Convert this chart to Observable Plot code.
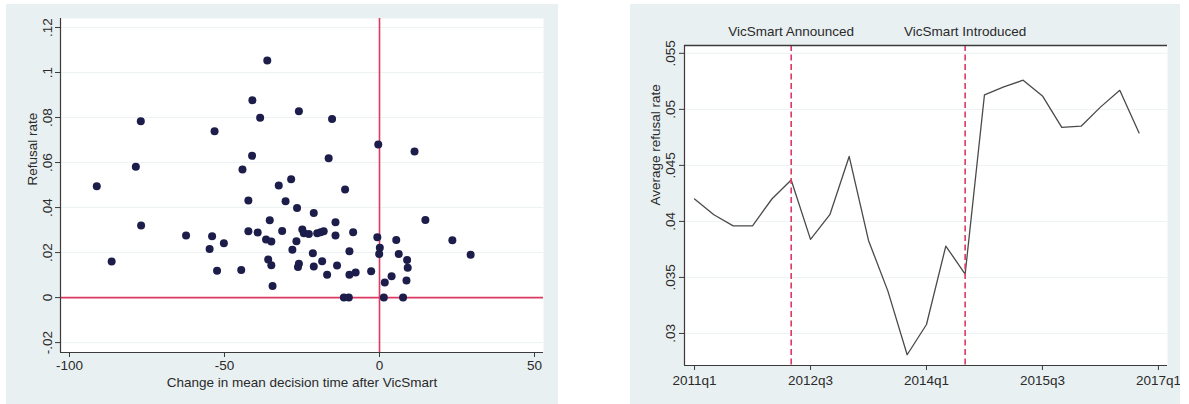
<!DOCTYPE html>
<html>
<head>
<meta charset="utf-8">
<script src="https://cdn.jsdelivr.net/npm/d3@7"></script>
<script src="https://cdn.jsdelivr.net/npm/@observablehq/plot@0.6"></script>
<style>
  html, body { margin: 0; padding: 0; background: #fff; width: 1189px; height: 404px; overflow: hidden; }
  .panel { position: absolute; background: #e9f0f2; }
  #left { left: 6px; top: 4px; width: 552px; height: 400px; }
  #right { left: 630px; top: 4px; width: 550px; height: 400px; }
</style>
</head>
<body>
<div id="left" class="panel"></div>
<div id="right" class="panel"></div>
<script>
// ---------- Left panel: scatter ----------
const changeDecisionTime = [-91.2,-77.0,-78.6,-86.4,-76.9,-62.4,-54.0,-54.8,-50.2,-52.4,-53.2,-44.6,-44.2,-42.3,-42.3,-41.1,-41.0,-39.3,-38.5,-36.2,-35.4,-36.6,-34.9,-35.9,-34.9,-34.5,-32.5,-31.4,-30.3,-28.5,-28.1,-26.6,-26.8,-26.0,-26.3,-26.0,-24.9,-24.4,-22.8,-21.2,-21.5,-21.2,-20.1,-19.0,-18.0,-18.5,-16.9,-16.4,-15.3,-14.2,-14.2,-13.7,-11.1,-11.5,-9.9,-9.7,-9.7,-8.5,-7.7,-2.7,-0.4,-0.7,0.1,-0.1,1.4,1.7,3.9,5.4,6.2,7.6,8.7,8.9,9.1,11.3,14.8,23.5,29.4];
const refusalRate = [0.0495,0.0783,0.0581,0.0160,0.0320,0.0276,0.0272,0.0216,0.0241,0.0119,0.0739,0.0123,0.0569,0.0431,0.0295,0.0630,0.0877,0.0289,0.0799,0.1053,0.0344,0.0258,0.0249,0.0169,0.0144,0.0052,0.0498,0.0296,0.0428,0.0526,0.0212,0.0398,0.0250,0.0828,0.0136,0.0150,0.0303,0.0286,0.0283,0.0376,0.0197,0.0138,0.0286,0.0290,0.0295,0.0161,0.0101,0.0619,0.0794,0.0335,0.0276,0.0142,0.0480,0.0,0.0,0.0206,0.0101,0.0290,0.0112,0.0117,0.0680,0.0268,0.0221,0.0194,0.0,0.0067,0.0095,0.0256,0.0194,0.0,0.0076,0.0167,0.0132,0.0649,0.0345,0.0255,0.0190];
const leftXTicks = [-100, -50, 0, 50];
const leftXTickLabels = ["-100", "-50", "0", "50"];
const leftYTicks = [-0.02, 0, 0.02, 0.04, 0.06, 0.08, 0.1, 0.12];
const leftYTickLabels = ["-.02", "0", ".02", ".04", ".06", ".08", ".1", ".12"];
const leftXTitle = "Change in mean decision time after VicSmart";
const leftYTitle = "Refusal rate";

// ---------- Right panel: line ----------
const quarters = ["2011q1","2011q2","2011q3","2011q4","2012q1","2012q2","2012q3","2012q4","2013q1","2013q2","2013q3","2013q4","2014q1","2014q2","2014q3","2014q4","2015q1","2015q2","2015q3","2015q4","2016q1","2016q2","2016q3","2016q4"];
const avgRefusal = [0.0420,0.0406,0.0396,0.0396,0.0420,0.0437,0.0384,0.0406,0.0458,0.0383,0.0338,0.0281,0.0308,0.0378,0.0353,0.0513,0.0520,0.0526,0.0512,0.0484,0.0485,0.0502,0.0517,0.0479];
const rightXTicks = [0, 6, 12, 18, 24];
const rightXTickLabels = ["2011q1", "2012q3", "2014q1", "2015q3", "2017q1"];
const rightYTicks = [0.03, 0.035, 0.04, 0.045, 0.05, 0.055];
const rightYTickLabels = [".03", ".035", ".04", ".045", ".05", ".055"];
const rightYTitle = "Average refusal rate";
const eventQuarters = ["2012q2", "2014q3"];
const eventLabels = ["VicSmart Announced", "VicSmart Introduced"];

const RED = "#dc3a62";
const DOT = "#1c1d4a";
const AXIS = "#3a3a3a";
const GRID = "#edf2f4";
const FONT = "'Liberation Sans', Arial, Helvetica, sans-serif";

// Left
const scatter = changeDecisionTime.map((x, i) => ({x, y: refusalRate[i]}));
const lx = [-102.9, 52.9], ly = [-0.0244, 0.124];
const left = Plot.plot({
  width: 552, height: 400,
  marginLeft: 54, marginRight: 15, marginTop: 14, marginBottom: 52,
  style: {background: "transparent", fontFamily: FONT, fontSize: "13.5px", color: "#2a2a2a"},
  x: {domain: lx}, y: {domain: ly},
  marks: [
    Plot.frame({fill: "white", stroke: null}),
    Plot.ruleY(leftYTicks, {stroke: GRID, strokeWidth: 1}),
    Plot.ruleY([0], {stroke: RED, strokeWidth: 1.6}),
    Plot.ruleX([0], {stroke: RED, strokeWidth: 1.6}),
    Plot.dot(scatter, {x: "x", y: "y", r: 4, fill: DOT, stroke: null}),
    Plot.ruleX([lx[0]], {stroke: AXIS, strokeWidth: 1.2}),
    Plot.ruleY([ly[0]], {stroke: AXIS, strokeWidth: 1.2}),
    Plot.axisX({ticks: leftXTicks, tickFormat: d => leftXTickLabels[leftXTicks.indexOf(d)], tickSize: 5, tickPadding: 3, label: null, stroke: AXIS, fontSize: 13.5}),
    Plot.axisY({ticks: leftYTicks, tickFormat: d => leftYTickLabels[leftYTicks.indexOf(d)], tickRotate: -90, tickSize: 5, tickPadding: 4, label: null, stroke: AXIS}),
    Plot.text([leftXTitle], {frameAnchor: "bottom", lineAnchor: "middle", dy: 30.5, fontSize: 13.5}),
    Plot.text([leftYTitle], {frameAnchor: "left", lineAnchor: "middle", rotate: -90, dx: -28, fontSize: 13.5})
  ]
});
document.getElementById("left").appendChild(left);

// Right
const series = quarters.map((q, i) => ({i, v: avgRefusal[i]}));
const rx = [-0.52, 24.47], ry = [0.02714, 0.0557];
const events = eventQuarters.map((q, k) => ({i: quarters.indexOf(q), label: eventLabels[k]}));
const right = Plot.plot({
  width: 550, height: 400,
  marginLeft: 54, marginRight: 13, marginTop: 41, marginBottom: 39,
  style: {background: "transparent", fontFamily: FONT, fontSize: "13.5px", color: "#2a2a2a"},
  x: {domain: rx}, y: {domain: ry},
  marks: [
    Plot.frame({fill: "white", stroke: null}),
    Plot.ruleY(rightYTicks, {stroke: GRID, strokeWidth: 1}),
    Plot.line(series, {x: "i", y: "v", stroke: "#4a4a4a", strokeWidth: 1.3}),
    Plot.ruleX(events, {x: "i", stroke: RED, strokeWidth: 1.6, strokeDasharray: "6,3.5"}),
    Plot.ruleX([rx[0]], {stroke: AXIS, strokeWidth: 1.2}),
    Plot.ruleY([ry[0]], {stroke: AXIS, strokeWidth: 1.2}),
    Plot.ruleY([ry[1]], {stroke: AXIS, strokeWidth: 1.4}),
    Plot.axisX({ticks: rightXTicks, tickFormat: d => rightXTickLabels[rightXTicks.indexOf(d)], tickSize: 5, tickPadding: 5, label: null, stroke: AXIS}),
    Plot.axisY({ticks: rightYTicks, tickFormat: d => rightYTickLabels[rightYTicks.indexOf(d)], tickRotate: -90, tickSize: 5, tickPadding: 5, label: null, stroke: AXIS}),
    Plot.text(events, {x: "i", text: "label", frameAnchor: "top", lineAnchor: "middle", dy: -14, fontSize: 13.5}),
    Plot.text([rightYTitle], {frameAnchor: "left", lineAnchor: "middle", rotate: -90, dx: -29, fontSize: 13.5})
  ]
});
document.getElementById("right").appendChild(right);
</script>
</body>
</html>
